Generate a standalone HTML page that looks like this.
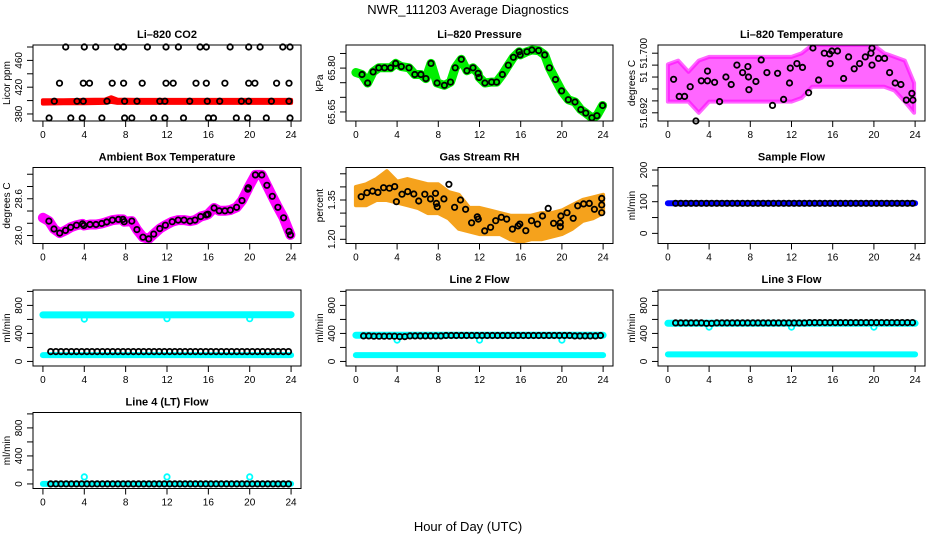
<!DOCTYPE html>
<html><head><meta charset="utf-8"><style>
html,body{margin:0;padding:0;background:#fff}
svg{display:block;font-family:"Liberation Sans",sans-serif}
</style></head><body>
<svg id="chart" width="936" height="540" viewBox="0 0 936 540" xmlns="http://www.w3.org/2000/svg">
<text x="468" y="14" text-anchor="middle" font-size="13">NWR_111203  Average Diagnostics</text>
<text x="468" y="531" text-anchor="middle" font-size="13">Hour of Day (UTC)</text>
</svg>
<script>
// ---------- data ----------
const X_TICKS = [0,4,8,12,16,20,24];
// CO2
const CO2_RED_H = [0,2,4,6,6.6,7.2,9,12,15,18,21,24];
const CO2_RED_LO = [395.5,396,396,396.5,398,396.5,396.5,396.5,396.5,396.5,396.5,396.5];
const CO2_RED_HI = [400.5,400.5,401,401.5,405,401.5,401,401,401,401,401,401];
const CO2_H = [2.2,4.0,5.1,7.2,7.8,10.1,11.9,13.1,15.2,15.8,18.1,19.9,21.0,23.2,23.9,
 1.6,3.9,4.5,6.7,7.8,9.6,11.9,12.6,14.8,15.8,17.6,19.9,20.5,22.6,23.8,
 1.1,3.3,3.9,6.2,7.9,9.1,11.3,11.8,14.2,15.9,17.1,19.2,19.9,22.1,23.8,
 0.6,2.7,3.8,5.7,7.9,8.6,10.7,11.8,13.6,16.0,16.5,18.7,19.8,21.6,23.9];
const CO2_V = [480,480,480,480,480,480,480,480,480,480,480,480,480,480,480,
 426,426,426,426,426,426,426,426,426,426,426,426,426,426,426,
 399,399,399,399,399,399,399,399,399,399,399,399,399,399,399,
 374,374,374,374,374,374,374,374,374,374,374,374,374,374,374];
// Pressure
const P_H = [0.59,1.14,1.67,2.22,2.78,3.37,3.86,4.41,5.16,5.72,6.31,6.80,7.29,7.88,8.59,9.18,9.64,10.23,10.78,11.37,11.86,11.96,12.52,13.17,13.66,14.22,14.80,15.29,15.85,15.95,16.60,17.09,17.74,18.33,18.79,19.38,19.97,20.62,21.27,21.83,22.32,22.91,23.40,23.95];
const P_V = [65.778,65.749,65.787,65.801,65.801,65.801,65.816,65.805,65.801,65.778,65.778,65.764,65.816,65.749,65.741,65.752,65.801,65.830,65.791,65.801,65.782,65.768,65.749,65.752,65.752,65.778,65.810,65.837,65.856,65.845,65.856,65.862,65.860,65.845,65.801,65.761,65.722,65.692,65.684,65.658,65.646,65.630,65.637,65.672];
const P_GREEN_H = [0.0].concat(P_H);
const P_GREEN_V = [65.785].concat(P_V);
// Li-820 temperature
const T_BAND_H = [0,1,2,3,4,6,8,10,12,13,14,16,18,20,21,22,23,23.9];
const T_BAND_LO = [51.6935,51.6935,51.6935,51.692,51.6935,51.6935,51.6935,51.6935,51.6935,51.694,51.6955,51.6955,51.6955,51.6955,51.6955,51.695,51.6935,51.692];
const T_BAND_HI = [51.6985,51.699,51.6975,51.699,51.6995,51.6995,51.6995,51.6995,51.6995,51.700,51.7011,51.7011,51.7011,51.7011,51.700,51.6995,51.699,51.696];
const T_H = [0.55,1.1,1.62,2.17,2.72,3.24,3.85,3.85,4.53,5.02,5.63,6.15,6.7,7.25,7.77,7.83,7.86,8.54,9.06,9.61,10.16,10.65,11.23,11.81,11.88,12.52,13.07,13.66,14.08,14.63,15.18,15.7,15.76,15.92,16.47,17.06,17.54,18.09,18.61,19.16,19.71,19.81,19.81,20.45,21.04,21.52,22.07,22.62,23.14,23.69,23.79];
const T_V = [51.6965,51.6942,51.6942,51.6955,51.6909,51.6963,51.6976,51.6963,51.6961,51.6935,51.6968,51.6958,51.6984,51.6974,51.6982,51.6968,51.6951,51.6962,51.6991,51.6974,51.6930,51.6973,51.6938,51.6960,51.6980,51.6986,51.6981,51.6947,51.7007,51.6964,51.7000,51.6999,51.6986,51.7003,51.7003,51.6966,51.6995,51.6979,51.6986,51.6995,51.7000,51.7007,51.6984,51.6993,51.6993,51.6974,51.6960,51.6958,51.6937,51.6946,51.6937];
// Ambient box temperature
const A_H = [0.58,1.07,1.62,2.18,2.69,3.25,3.83,3.96,4.55,5.13,5.68,6.17,6.72,7.31,7.73,7.86,8.6,9.09,9.68,10.23,10.71,11.3,11.85,12.5,13.08,13.64,14.22,14.71,15.26,15.81,15.97,16.56,17.05,17.6,18.12,18.73,19.25,19.81,19.87,20.55,21.17,21.66,22.18,22.73,23.28,23.8,23.93];
const A_V = [28.235,28.107,28.04,28.084,28.135,28.168,28.19,28.163,28.18,28.18,28.197,28.22,28.252,28.264,28.264,28.225,28.235,28.096,27.973,27.945,28.023,28.113,28.168,28.225,28.252,28.252,28.235,28.252,28.309,28.336,28.348,28.449,28.403,28.403,28.415,28.46,28.57,28.756,28.78,28.99,28.99,28.82,28.64,28.46,28.29,28.067,28.01];
const A_MAG_H = [0].concat(A_H);
const A_MAG_V = [28.29].concat(A_V);
// Gas stream RH
const RH_BAND_H = [0,1,2,3,4,5,6,7,8,9,10,11,12,13,14,15,16,17,18,19,20,21,22,23,24];
const RH_BAND_LO = [1.33,1.33,1.35,1.35,1.34,1.33,1.32,1.30,1.30,1.28,1.24,1.23,1.22,1.22,1.22,1.20,1.19,1.20,1.20,1.21,1.22,1.24,1.27,1.28,1.30];
const RH_BAND_HI = [1.40,1.41,1.43,1.46,1.42,1.43,1.42,1.41,1.41,1.38,1.37,1.32,1.32,1.31,1.30,1.29,1.29,1.29,1.30,1.30,1.31,1.33,1.35,1.36,1.37];
const RH_H = [0.52,1.07,1.62,2.14,2.69,3.25,3.77,3.93,4.48,5.03,5.62,6.1,6.69,7.24,7.73,7.82,7.89,8.54,9.03,9.58,10.16,10.65,11.23,11.79,11.88,12.5,13.08,13.57,14.12,14.64,15.19,15.75,15.91,16.49,17.05,17.63,18.12,18.67,19.19,19.84,19.84,19.9,20.49,21.1,21.53,22.11,22.66,23.15,23.86,23.86,23.86];
const RH_V = [1.3626,1.378,1.384,1.379,1.397,1.395,1.401,1.3435,1.372,1.382,1.373,1.346,1.372,1.354,1.3755,1.337,1.324,1.354,1.41,1.322,1.35,1.3145,1.263,1.286,1.277,1.232,1.246,1.271,1.284,1.277,1.239,1.251,1.258,1.233,1.271,1.258,1.289,1.318,1.261,1.248,1.263,1.289,1.3015,1.28,1.328,1.335,1.337,1.3145,1.356,1.331,1.3015];
// Flows (half-hourly black points)
const FLOW_H = [0.75,1.25,1.75,2.25,2.75,3.25,3.75,4.25,4.75,5.25,5.75,6.25,6.75,7.25,7.75,8.25,8.75,9.25,9.75,10.25,10.75,11.25,11.75,12.25,12.75,13.25,13.75,14.25,14.75,15.25,15.75,16.25,16.75,17.25,17.75,18.25,18.75,19.25,19.75,20.25,20.75,21.25,21.75,22.25,22.75,23.25,23.75];
const SAMPLE_V = [95,95,95,95,95,95,95,95,95,95,95,95,95,95,95,95,95,95,95,95,95,95,95,95,95,95,95,95,95,95,95,95,95,95,95,95,95,95,95,95,95,95,95,95,95,95,95];
const L1_V = [140,140,140,140,140,140,140,140,140,140,140,140,140,140,140,140,140,140,140,140,140,140,140,140,140,140,140,140,140,140,140,140,140,140,140,140,140,140,140,140,140,140,140,140,140,140,140];
const L2_V = [365,365,360,360,360,360,360,355,355,365,365,365,365,365,365,365,370,370,370,370,370,370,370,370,370,370,370,370,370,370,370,370,370,370,370,370,370,370,370,370,370,365,365,365,365,365,370];
const L3_V = [550,550,550,550,550,550,545,545,550,550,550,550,550,550,550,550,550,550,550,550,550,550,550,550,550,550,555,555,555,555,555,555,555,555,555,555,555,555,555,555,555,555,555,555,555,555,555];
const L4_V = [0,0,0,0,0,0,0,0,0,0,0,0,0,0,0,0,0,0,0,0,0,0,0,0,0,0,0,0,0,0,0,0,0,0,0,0,0,0,0,0,0,0,0,0,0,0,0];
const SAMPLE_LINE_H = [0,24];
const SAMPLE_LINE_V = [95,95];
const L1_HI_H = [0,24]; const L1_HI_V = [665,668];
const L1_LO_H = [0,24]; const L1_LO_V = [90,90];
const L1_DIP_H = [4,12,20]; const L1_DIP_V = [605,610,610];
const L2_HI_H = [0,24]; const L2_HI_V = [375,375];
const L2_LO_H = [0,24]; const L2_LO_V = [90,90];
const L2_DIP_H = [4,12,20]; const L2_DIP_V = [305,305,305];
const L3_HI_H = [0,24]; const L3_HI_V = [545,545];
const L3_LO_H = [0,24]; const L3_LO_V = [100,100];
const L3_DIP_H = [4,12,20]; const L3_DIP_V = [490,490,490];
const L4_LINE_H = [0,24]; const L4_LINE_V = [0,0];
const L4_SPIKE_H = [4,12,20]; const L4_SPIKE_V = [100,100,100];
const FLOW_TICKS = [0,200,400,600,800,1000];
const FLOW_LABELS = ["0","","400","","800",""];

// ---------- layout ----------
const COLS = [[33,301],[346,613],[658,925]];
const ROWS = [45,167.5,290,412.5];
const PH = 76;
const svg = document.getElementById('chart');
const NS = 'http://www.w3.org/2000/svg';
function mk(tag, attrs){const e=document.createElementNS(NS,tag);for(const k in attrs)e.setAttribute(k,attrs[k]);svg.appendChild(e);return e;}

const PANELS = [
 {id:'co2',title:'Li\u2013820 CO2',ylab:'Licor ppm',col:0,row:0,ylim:[369.5,483],yt:[380,400,420,440,460,480],yl:['380','','420','','460',''],
  bands:[{name:'co2-red-cloud',h:CO2_RED_H,lo:CO2_RED_LO,hi:CO2_RED_HI,c:'#ff0000'}],lines:[],
  pts:[{name:'co2-point',h:CO2_H,v:CO2_V,c:'#000'}]},
 {id:'pressure',title:'Li\u2013820 Pressure',ylab:'kPa',col:1,row:0,ylim:[65.619,65.879],yt:[65.65,65.70,65.75,65.80,65.85],yl:['65.65','','','65.80',''],
  bands:[],lines:[{name:'pressure-green-cloud',h:P_GREEN_H,v:P_GREEN_V,c:'#00ee00',w:9}],
  pts:[{name:'pressure-point',h:P_H,v:P_V,c:'#000'}]},
 {id:'temperature',title:'Li\u2013820 Temperature',ylab:'degrees C',col:2,row:0,ylim:[51.6909,51.7011],yt:[51.692,51.6936,51.6952,51.6968,51.6984,51.700],yl:['51.692','','','51','','51.700'],
  bands:[{name:'temperature-magenta-cloud',h:T_BAND_H,lo:T_BAND_LO,hi:T_BAND_HI,c:'#ff00ff',op:0.6}],lines:[],
  pts:[{name:'temperature-point',h:T_H,v:T_V,c:'#000'}]},
 {id:'ambient',title:'Ambient Box Temperature',ylab:'degrees C',col:0,row:1,ylim:[27.87,29.11],yt:[28.0,28.2,28.4,28.6,28.8,29.0],yl:['28.0','','','28.6','',''],
  bands:[],lines:[{name:'ambient-magenta-cloud',h:A_MAG_H,v:A_MAG_V,c:'#ff00ff',w:10}],
  pts:[{name:'ambient-point',h:A_H,v:A_V,c:'#000'}]},
 {id:'rh',title:'Gas Stream RH',ylab:'percent',col:1,row:1,ylim:[1.184,1.474],yt:[1.20,1.25,1.30,1.35,1.40,1.45],yl:['1.20','','','1.35','',''],
  bands:[{name:'rh-orange-cloud',h:RH_BAND_H,lo:RH_BAND_LO,hi:RH_BAND_HI,c:'#f5a21c'}],lines:[],
  pts:[{name:'rh-point',h:RH_H,v:RH_V,c:'#000'}]},
 {id:'sample',title:'Sample Flow',ylab:'ml/min',col:2,row:1,ylim:[-32,208],yt:[0,50,100,150,200],yl:['0','','100','','200'],
  bands:[],lines:[{name:'sample-blue-line',h:SAMPLE_LINE_H,v:SAMPLE_LINE_V,c:'#0000ff',w:6}],
  pts:[{name:'sample-point',h:FLOW_H,v:SAMPLE_V,c:'#000'}]},
 {id:'line1',title:'Line 1 Flow',ylab:'ml/min',col:0,row:2,ylim:[-65,1020],yt:FLOW_TICKS,yl:FLOW_LABELS,
  bands:[],lines:[{name:'line1-cyan-high',h:L1_HI_H,v:L1_HI_V,c:'#00ffff',w:7},{name:'line1-cyan-low',h:L1_LO_H,v:L1_LO_V,c:'#00ffff',w:6}],
  pts:[{name:'line1-cyan-dip',h:L1_DIP_H,v:L1_DIP_V,c:'#00ffff'},{name:'line1-point',h:FLOW_H,v:L1_V,c:'#000'}]},
 {id:'line2',title:'Line 2 Flow',ylab:'ml/min',col:1,row:2,ylim:[-65,1020],yt:FLOW_TICKS,yl:FLOW_LABELS,
  bands:[],lines:[{name:'line2-cyan-high',h:L2_HI_H,v:L2_HI_V,c:'#00ffff',w:7},{name:'line2-cyan-low',h:L2_LO_H,v:L2_LO_V,c:'#00ffff',w:6}],
  pts:[{name:'line2-cyan-dip',h:L2_DIP_H,v:L2_DIP_V,c:'#00ffff'},{name:'line2-point',h:FLOW_H,v:L2_V,c:'#000'}]},
 {id:'line3',title:'Line 3 Flow',ylab:'ml/min',col:2,row:2,ylim:[-65,1020],yt:FLOW_TICKS,yl:FLOW_LABELS,
  bands:[],lines:[{name:'line3-cyan-high',h:L3_HI_H,v:L3_HI_V,c:'#00ffff',w:7},{name:'line3-cyan-low',h:L3_LO_H,v:L3_LO_V,c:'#00ffff',w:6}],
  pts:[{name:'line3-cyan-dip',h:L3_DIP_H,v:L3_DIP_V,c:'#00ffff'},{name:'line3-point',h:FLOW_H,v:L3_V,c:'#000'}]},
 {id:'line4',title:'Line 4 (LT) Flow',ylab:'ml/min',col:0,row:3,ylim:[-65,1020],yt:FLOW_TICKS,yl:FLOW_LABELS,
  bands:[],lines:[{name:'line4-cyan-line',h:L4_LINE_H,v:L4_LINE_V,c:'#00ffff',w:6}],
  pts:[{name:'line4-cyan-spike',h:L4_SPIKE_H,v:L4_SPIKE_V,c:'#00ffff'},{name:'line4-point',h:FLOW_H,v:L4_V,c:'#000'}]}
];

PANELS.forEach(p=>{
  const x0=COLS[p.col][0], x1=COLS[p.col][1], y0=ROWS[p.row], y1=y0+PH;
  const xs=h=>x0+(h+0.96)/25.92*(x1-x0);
  const ys=v=>y1-(v-p.ylim[0])/(p.ylim[1]-p.ylim[0])*(y1-y0);
  const cid='clip-'+p.id;
  const cp=mk('clipPath',{id:cid});
  
  
  const cr=document.createElementNS(NS,'rect');cr.setAttribute('x',x0);cr.setAttribute('y',y0);cr.setAttribute('width',x1-x0);cr.setAttribute('height',y1-y0);cp.appendChild(cr);
  const t=mk('text',{x:(x0+x1)/2,y:y0-7,'text-anchor':'middle','font-size':'11','font-weight':'bold'});
  
  
  t.textContent=p.title;
  p.bands.forEach(b=>{
    let d='M'+b.h.map((h,i)=>xs(h).toFixed(1)+','+ys(b.hi[i]).toFixed(1)).join('L');
    for(let i=b.h.length-1;i>=0;i--) d+='L'+xs(b.h[i]).toFixed(1)+','+ys(b.lo[i]).toFixed(1);
    const e=mk('path',{d:d+'Z',fill:b.c,'fill-opacity':b.op||1,stroke:b.c,'stroke-opacity':b.op||1,'stroke-width':4,'stroke-linejoin':'round','clip-path':'url(#'+cid+')'});
    
    
  });
  p.lines.forEach(l=>{
    const pts=l.h.map((h,i)=>xs(h).toFixed(1)+','+ys(l.v[i]).toFixed(1)).join(' ');
    const e=mk('polyline',{points:pts,fill:'none',stroke:l.c,'stroke-width':l.w,'stroke-linejoin':'round','stroke-linecap':'round','clip-path':'url(#'+cid+')'});
    
    
  });
  p.pts.forEach(s=>{
    s.h.forEach((h,i)=>{
      const e=mk('circle',{cx:xs(h).toFixed(1),cy:ys(s.v[i]).toFixed(1),r:2.7,fill:'none',stroke:s.c,'stroke-width':1.8});
      
      
    });
  });
  const box=mk('rect',{x:x0,y:y0,width:x1-x0,height:y1-y0,fill:'none',stroke:'#000','stroke-width':1});
  
  
  X_TICKS.forEach(h=>{
    const tk=mk('line',{x1:xs(h),x2:xs(h),y1:y1,y2:y1+6,stroke:'#000'});
    
    
    const lb=mk('text',{x:xs(h),y:y1+17,'text-anchor':'middle','font-size':'10'});
    
    
    lb.textContent=h;
  });
  p.yt.forEach((v,i)=>{
    const y=ys(v);
    const tk=mk('line',{x1:x0-6,x2:x0,y1:y,y2:y,stroke:'#000'});
    
    
    if(p.yl[i]){
      const lb=mk('text',{x:x0-11,y:y,'text-anchor':'middle','font-size':'10',transform:'rotate(-90 '+(x0-11)+' '+y+')'});
      
      
      lb.textContent=p.yl[i];
    }
  });
  const yc=(y0+y1)/2, yx=x0-23;
  const yt=mk('text',{x:yx,y:yc,'text-anchor':'middle','font-size':'10',transform:'rotate(-90 '+yx+' '+yc+')'});
  
  
  yt.textContent=p.ylab;
});
</script>
</body></html>
